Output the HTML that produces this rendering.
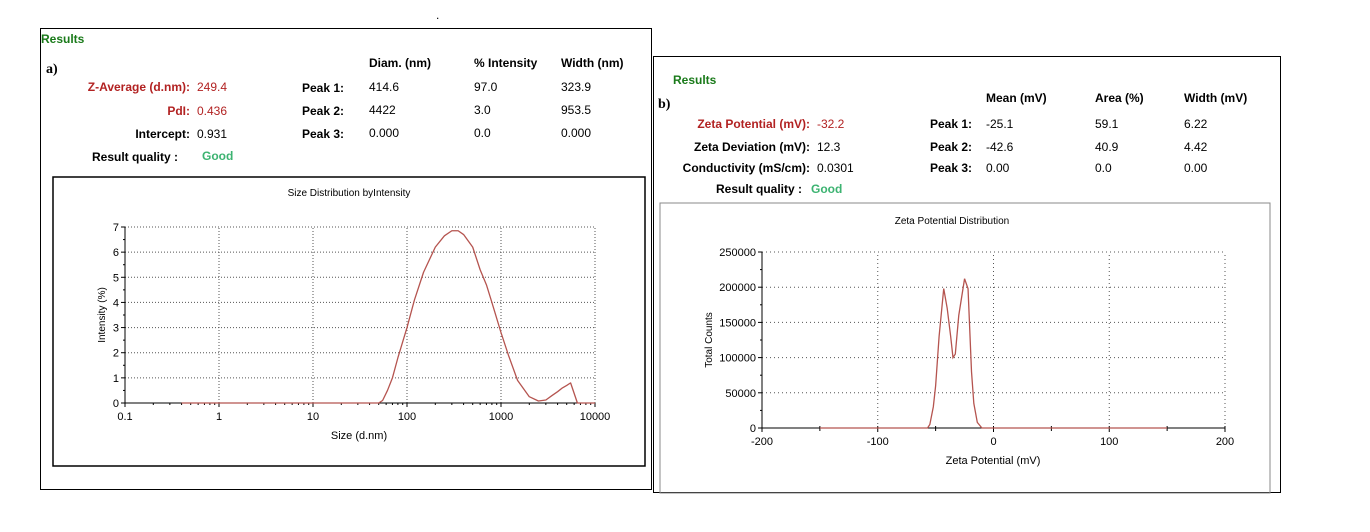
<!DOCTYPE html>
<html><head><meta charset="utf-8">
<style>
body{margin:0;width:1370px;height:532px;background:#fff;position:relative;overflow:hidden;font-family:"Liberation Sans",Arial,sans-serif;}
.t{position:absolute;font-size:12px;white-space:nowrap;color:#000;}
.b{font-weight:bold;}
.r{text-align:right;}
.red{color:#b22222;}
.grn{color:#1a7a1a;font-weight:bold;}
.good{color:#3cb371;font-weight:bold;}
.panel{position:absolute;border:1px solid #000;box-sizing:border-box;}
.lbl{font-family:"Liberation Serif",serif;font-weight:bold;font-size:14px;}
svg{position:absolute;left:0;top:0;}
</style></head><body>
<div class="t" style="left:436px;top:8px">.</div>

<div class="panel" style="left:40px;top:28px;width:612px;height:462px"></div>
<div class="t grn" style="left:41px;top:32px">Results</div>
<div class="t lbl" style="left:46px;top:62px">a)</div>
<div class="t b" style="left:369px;top:56px">Diam. (nm)</div>
<div class="t b" style="left:474px;top:56px">% Intensity</div>
<div class="t b" style="left:561px;top:56px">Width (nm)</div>
<div class="t b red r" style="left:60px;width:130px;top:80px">Z-Average (d.nm):</div>
<div class="t red" style="left:197px;top:80px">249.4</div>
<div class="t b red r" style="left:60px;width:130px;top:104px">PdI:</div>
<div class="t red" style="left:197px;top:104px">0.436</div>
<div class="t b r" style="left:60px;width:130px;top:127px">Intercept:</div>
<div class="t" style="left:197px;top:127px">0.931</div>
<div class="t b" style="left:92px;top:150px">Result quality :</div>
<div class="t good" style="left:202px;top:149px">Good</div>
<div class="t b" style="left:302px;top:81px">Peak 1:</div>
<div class="t b" style="left:302px;top:104px">Peak 2:</div>
<div class="t b" style="left:302px;top:127px">Peak 3:</div>
<div class="t" style="left:369px;top:80px">414.6</div>
<div class="t" style="left:369px;top:103px">4422</div>
<div class="t" style="left:369px;top:126px">0.000</div>
<div class="t" style="left:474px;top:80px">97.0</div>
<div class="t" style="left:474px;top:103px">3.0</div>
<div class="t" style="left:474px;top:126px">0.0</div>
<div class="t" style="left:561px;top:80px">323.9</div>
<div class="t" style="left:561px;top:103px">953.5</div>
<div class="t" style="left:561px;top:126px">0.000</div>

<div class="panel" style="left:653px;top:56px;width:628px;height:437px"></div>
<div class="t grn" style="left:673px;top:73px">Results</div>
<div class="t lbl" style="left:658px;top:97px">b)</div>
<div class="t b" style="left:986px;top:91px">Mean (mV)</div>
<div class="t b" style="left:1095px;top:91px">Area (%)</div>
<div class="t b" style="left:1184px;top:91px">Width (mV)</div>
<div class="t b red r" style="left:660px;width:150px;top:117px">Zeta Potential (mV):</div>
<div class="t red" style="left:817px;top:117px">-32.2</div>
<div class="t b r" style="left:660px;width:150px;top:140px">Zeta Deviation (mV):</div>
<div class="t" style="left:817px;top:140px">12.3</div>
<div class="t b r" style="left:660px;width:150px;top:161px">Conductivity (mS/cm):</div>
<div class="t" style="left:817px;top:161px">0.0301</div>
<div class="t b" style="left:716px;top:182px">Result quality :</div>
<div class="t good" style="left:811px;top:182px">Good</div>
<div class="t b" style="left:930px;top:117px">Peak 1:</div>
<div class="t b" style="left:930px;top:140px">Peak 2:</div>
<div class="t b" style="left:930px;top:161px">Peak 3:</div>
<div class="t" style="left:986px;top:117px">-25.1</div>
<div class="t" style="left:986px;top:140px">-42.6</div>
<div class="t" style="left:986px;top:161px">0.00</div>
<div class="t" style="left:1095px;top:117px">59.1</div>
<div class="t" style="left:1095px;top:140px">40.9</div>
<div class="t" style="left:1095px;top:161px">0.0</div>
<div class="t" style="left:1184px;top:117px">6.22</div>
<div class="t" style="left:1184px;top:140px">4.42</div>
<div class="t" style="left:1184px;top:161px">0.00</div>

<svg id="chart" width="1370" height="532"></svg>

<script>
const sizeX=[0.4,1,10,50,55,62,70,80,100,120,150,200,250,300,350,400,500,600,700,800,1000,1200,1500,2000,2500,3000,3500,4000,4500,5000,5500,6500,10000];
const sizeY=[0,0,0,0,0.1,0.5,1,1.8,3,4.1,5.2,6.2,6.65,6.85,6.85,6.7,6.2,5.3,4.7,4,2.8,1.9,0.9,0.25,0.08,0.12,0.3,0.45,0.6,0.7,0.8,0,0];
const sizeXTicks=[0.1,1,10,100,1000,10000];
const sizeXTickLabels=["0.1","1","10","100","1000","10000"];
const sizeYTicks=[0,1,2,3,4,5,6,7];
const zetaX=[-150,-57,-55,-52,-50,-47,-43,-40,-37,-35,-33,-30,-25,-22,-19,-17,-14,-10,150];
const zetaY=[0,0,5000,30000,60000,130000,198000,170000,130000,100000,105000,160000,212000,198000,80000,35000,8000,0,0];
const zetaXTicks=[-200,-100,0,100,200];
const zetaYTicks=[0,50000,100000,150000,200000,250000];

const NS="http://www.w3.org/2000/svg";
const svg=document.getElementById('chart');
function mk(tag,attrs,parent){const e=document.createElementNS(NS,tag);for(const k in attrs)e.setAttribute(k,attrs[k]);(parent||svg).appendChild(e);return e;}
function txt(x,y,s,anchor,size,parent){const e=mk('text',{x:x,y:y,'text-anchor':anchor||'middle','font-size':size||11,'font-family':'Liberation Sans, Arial, sans-serif',fill:'#000'},parent);e.textContent=s;return e;}

// Chart A
const gA=mk('g',{});


mk('rect',{x:53,y:177,width:592,height:289,fill:'none',stroke:'#000','stroke-width':1.5},gA);
txt(349,196,'Size Distribution byIntensity','middle',10,gA);
const ax={x0:125,x1:595,y0:403,y1:227};
const sxA=v=>ax.x0+(Math.log10(v)+1)/5*(ax.x1-ax.x0);
const syA=v=>ax.y0-v/7*(ax.y0-ax.y1);
sizeYTicks.forEach(v=>{const y=syA(v);
 if(v>0){const l=mk('line',{x1:ax.x0,x2:ax.x1,y1:y,y2:y,stroke:'#555','stroke-dasharray':'1,2'},gA);}
 mk('line',{x1:ax.x0-4,x2:ax.x0,y1:y,y2:y,stroke:'#000'},gA);
 txt(ax.x0-6,y+4,String(v),'end',11,gA);
 if(v<7) mk('line',{x1:ax.x0-2,x2:ax.x0,y1:syA(v+0.5),y2:syA(v+0.5),stroke:'#000'},gA);
});
sizeXTicks.forEach((v,i)=>{const x=sxA(v);
 if(i>0){const l=mk('line',{x1:x,x2:x,y1:ax.y0,y2:ax.y1,stroke:'#555','stroke-dasharray':'1,2'},gA);}
 mk('line',{x1:x,x2:x,y1:ax.y0,y2:ax.y0+4,stroke:'#000'},gA);
 txt(x,ax.y0+17,sizeXTickLabels[i],'middle',11,gA);
 if(i<sizeXTicks.length-1) for(let k=2;k<10;k++){const xm=sxA(v*k);mk('line',{x1:xm,x2:xm,y1:ax.y0,y2:ax.y0+2,stroke:'#000'},gA);}
});
mk('line',{x1:ax.x0,x2:ax.x0,y1:ax.y0,y2:ax.y1,stroke:'#000'},gA);
mk('line',{x1:ax.x0,x2:ax.x1,y1:ax.y0,y2:ax.y0,stroke:'#000'},gA);
txt(359,439,'Size (d.nm)','middle',11,gA);
const yt=txt(0,0,'Intensity (%)','middle',10,gA);yt.setAttribute('transform','translate(105,315) rotate(-90)');
const pA=mk('polyline',{points:sizeX.map((v,i)=>sxA(v)+','+syA(sizeY[i])).join(' '),fill:'none',stroke:'#b5544f','stroke-width':1.3,'stroke-linejoin':'round'},gA);



// Chart B
const gB=mk('g',{});


mk('rect',{x:660,y:203,width:610,height:290,fill:'none',stroke:'#888','stroke-width':1},gB);
txt(952,224,'Zeta Potential Distribution','middle',10,gB);
const bx={x0:762,x1:1225,y0:428,y1:252};
const sxB=v=>bx.x0+(v+200)/400*(bx.x1-bx.x0);
const syB=v=>bx.y0-v/250000*(bx.y0-bx.y1);
zetaYTicks.forEach(v=>{const y=syB(v);
 if(v>0){const l=mk('line',{x1:bx.x0,x2:bx.x1,y1:y,y2:y,stroke:'#555','stroke-dasharray':'1,3'},gB);}
 mk('line',{x1:bx.x0-4,x2:bx.x0,y1:y,y2:y,stroke:'#000'},gB);
 txt(bx.x0-6,y+4,String(v),'end',11,gB);
 if(v<250000) mk('line',{x1:bx.x0-2,x2:bx.x0,y1:syB(v+25000),y2:syB(v+25000),stroke:'#000'},gB);
});
zetaXTicks.forEach((v,i)=>{const x=sxB(v);
 if(i>0){const l=mk('line',{x1:x,x2:x,y1:bx.y0,y2:bx.y1,stroke:'#555','stroke-dasharray':'1,3'},gB);}
 mk('line',{x1:x,x2:x,y1:bx.y0-2,y2:bx.y0+4,stroke:'#000'},gB);
 txt(x,bx.y0+17,String(v),'middle',11,gB);
 if(i<zetaXTicks.length-1){const xm=sxB(v+50);mk('line',{x1:xm,x2:xm,y1:bx.y0-2,y2:bx.y0+3,stroke:'#000'},gB);}
});
mk('line',{x1:bx.x0,x2:bx.x0,y1:bx.y0,y2:bx.y1,stroke:'#000'},gB);
mk('line',{x1:bx.x0,x2:bx.x1,y1:bx.y0,y2:bx.y0,stroke:'#000'},gB);
txt(993,464,'Zeta Potential (mV)','middle',11,gB);
const yb=txt(0,0,'Total Counts','middle',10,gB);yb.setAttribute('transform','translate(712,340) rotate(-90)');
const pB=mk('polyline',{points:zetaX.map((v,i)=>sxB(v)+','+syB(zetaY[i])).join(' '),fill:'none',stroke:'#b5544f','stroke-width':1.3},gB);


</script>
</body></html>
